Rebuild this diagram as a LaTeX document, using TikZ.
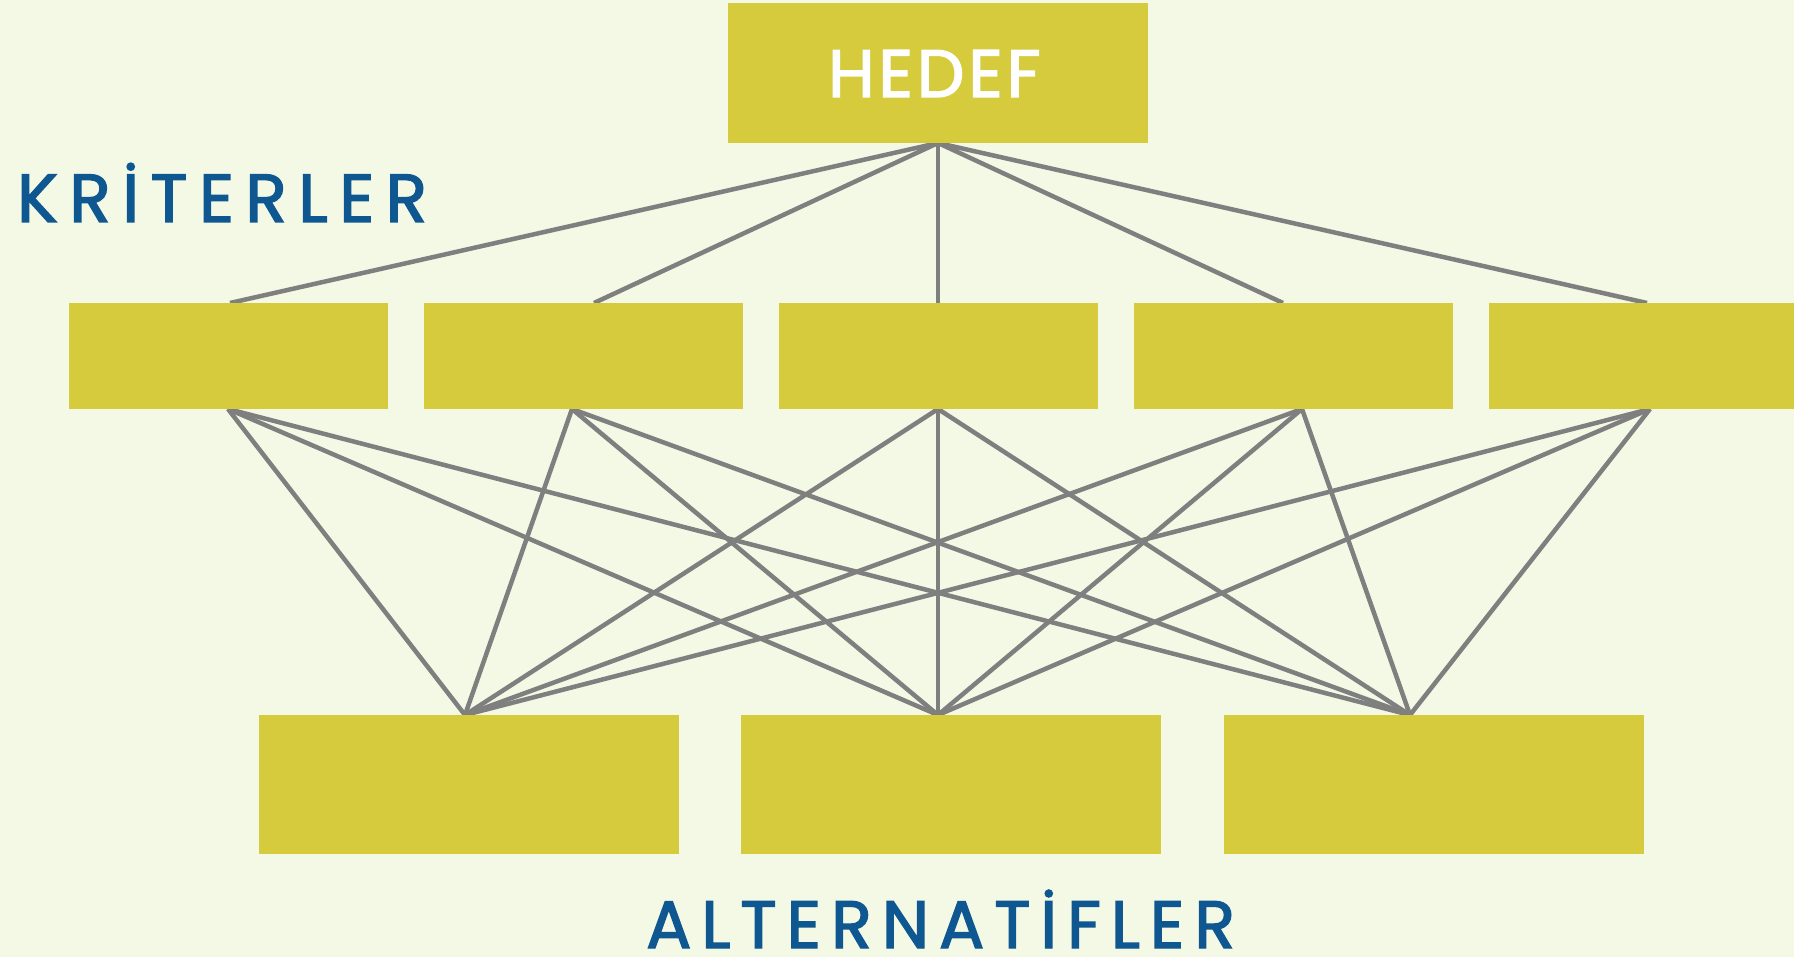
\documentclass[tikz,border=0pt]{standalone}
\usepackage{fontspec}
\setmainfont{Poppins}
\newfontfamily\goalfont[LetterSpace=6,FakeBold=2.2]{Poppins}
\newfontfamily\critfont[LetterSpace=17,FakeBold=2.2]{Poppins}
\newfontfamily\altfont[LetterSpace=15,FakeBold=2.2]{Poppins}
\definecolor{bgcol}{HTML}{F4F9E5}
\definecolor{boxcol}{HTML}{D5CB3D}
\definecolor{linkcol}{HTML}{7F7F7F}
\definecolor{titlecol}{HTML}{0E5790}
\tikzset{
  box/.style={fill=boxcol, draw=none, inner sep=0pt, anchor=center},
  goalbox/.style={box, minimum width=420pt, minimum height=140pt},
  critbox/.style={box, minimum width=319pt, minimum height=106pt},
  altbox/.style={box, minimum width=420pt, minimum height=139pt},
  link/.style={draw=linkcol, line width=4.5pt},
  heading/.style={text=titlecol, inner sep=0pt, anchor=base west},
}
\begin{document}
\begin{tikzpicture}[x=1pt, y=-1pt]
  % page and background
  \useasboundingbox (0,0) rectangle (1794,957);
  \fill[bgcol] (0,0) rectangle (1794,957);

  % attachment points of the links
  \coordinate (g)  at (938,143);
  \coordinate (k1t) at (230,303);  \coordinate (k1b) at (228,409);
  \coordinate (k2t) at (594,303);  \coordinate (k2b) at (572,409);
  \coordinate (k3t) at (938,303);  \coordinate (k3b) at (938,409);
  \coordinate (k4t) at (1283,303); \coordinate (k4b) at (1302,409);
  \coordinate (k5t) at (1647,303); \coordinate (k5b) at (1650,409);
  \coordinate (a1t) at (465,715);
  \coordinate (a2t) at (938,715);
  \coordinate (a3t) at (1410,715);

  % goal to criteria
  \foreach \k in {1,...,5} {
    \draw[link] (g) -- (k\k t);
  }
  % criteria to alternatives
  \foreach \k in {1,...,5} {
    \foreach \a in {1,2,3} {
      \draw[link] (k\k b) -- (a\a t);
    }
  }

  % goal
  \node[goalbox] (hedef) at (938,73) {};
  \node[text=white, inner sep=0pt, anchor=base west,
        font=\goalfont\fontsize{67}{67}\selectfont] (hedeftxt) at (828,97) {HEDEF};

  % criteria
  \node[critbox] (k1) at (228.5,356) {};
  \node[critbox] (k2) at (583.5,356) {};
  \node[critbox] (k3) at (938.5,356) {};
  \node[critbox] (k4) at (1293.5,356) {};
  \node[critbox] (k5) at (1648.5,356) {};

  % alternatives
  \node[altbox] (a1) at (469,784.5) {};
  \node[altbox] (a2) at (951,784.5) {};
  \node[altbox] (a3) at (1434,784.5) {};

  % level captions
  \node[heading, font=\critfont\fontsize{68}{68}\selectfont]
    (kriterler) at (17,222) {KRİTERLER};
  \node[heading, font=\altfont\fontsize{67}{67}\selectfont]
    (alternatifler) at (646,948) {ALTERNATİFLER};
\end{tikzpicture}
\end{document}
